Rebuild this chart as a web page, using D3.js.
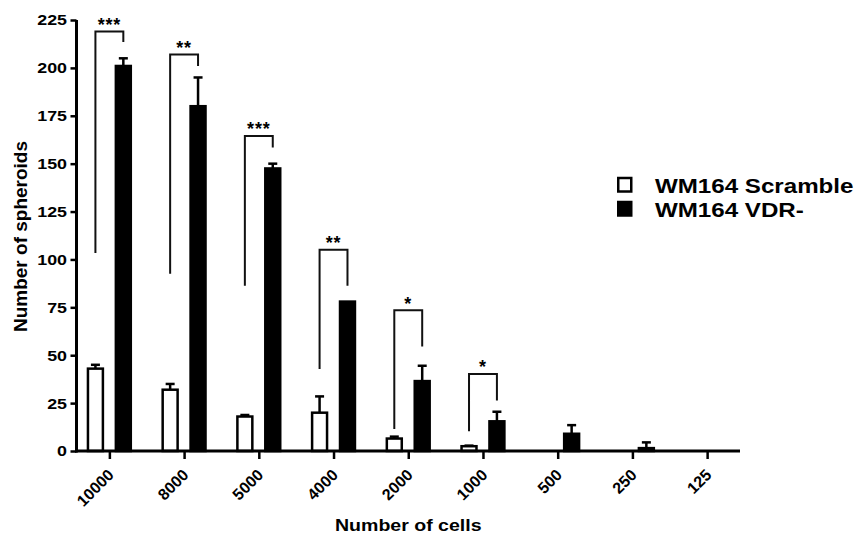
<!DOCTYPE html>
<html>
<head>
<meta charset="utf-8">
<script src="https://cdn.jsdelivr.net/npm/d3@7/dist/d3.min.js"></script>
<style>
  html, body { margin: 0; padding: 0; background: #fff; }
  svg { display: block; }
  text { font-family: "Liberation Sans", Arial, Helvetica, sans-serif; font-weight: bold; fill: #000; }
</style>
</head>
<body>
<svg id="chart" width="861" height="536"></svg>
<script>
// ---- data ----
const categories = ["10000", "8000", "5000", "4000", "2000", "1000", "500", "250", "125"];
const seriesNames = ["WM164 Scramble", "WM164 VDR-"];
const scrambleMean = [43, 32, 18, 20, 6.5, 2.5, 0, 0, 0];
const scrambleErr  = [2, 3, 0.8, 8.5, 1, 0.3, 0, 0, 0];
const vdrMean = [201, 180, 147.5, 78, 36.5, 15.5, 9, 1.5, 0];
const vdrErr  = [4, 15, 2.5, 0, 8, 5, 4.5, 3, 0];
const yTicks = [0, 25, 50, 75, 100, 125, 150, 175, 200, 225];

// significance brackets (in data units)
const bracketCats   = ["10000", "8000", "5000", "4000", "2000", "1000"];
const bracketTop    = [219, 207, 164.5, 105, 73.5, 40.2];
const bracketLeftTo = [103.3, 92.5, 86.3, 42.8, 11.5, 10.3];
const bracketRightTo= [213.5, 201, 158.5, 86.3, 54.6, 26.3];
const bracketLabels = ["***", "**", "***", "**", "*", "*"];

// ---- layout ----
const svg = d3.select("#chart");
const mLeft = 76.5, mRight = 740, mTop = 20, mBottom = 451;
const SX = 1.15; // horizontal text stretch seen in the reference

const x = d3.scalePoint().domain(categories).range([mLeft, mRight]).padding(0.44);
const y = d3.scaleLinear().domain([0, 225]).range([mBottom, mTop]);
const step = x.step();
const bw = step * 0.2;      // inner bar width
const off = step * 0.07;    // half gap
const sw = 2.5;

const g = svg.append("g");

const sData = categories.map((c, i) => ({c, v: scrambleMean[i], e: scrambleErr[i]}));
const vData = categories.map((c, i) => ({c, v: vdrMean[i], e: vdrErr[i]}));

function errBars(data, cxFn) {
  const eg = g.append("g").attr("stroke", "#000").attr("stroke-width", sw);
  data.filter(d => d.e > 0).forEach(d => {
    const cx = cxFn(d);
    eg.append("line").attr("x1", cx).attr("x2", cx).attr("y1", y(d.v)).attr("y2", y(d.v + d.e));
    eg.append("line").attr("x1", cx - 4.5).attr("x2", cx + 4.5).attr("y1", y(d.v + d.e)).attr("y2", y(d.v + d.e));
  });
}

const sCx = d => x(d.c) - off - sw / 2 - bw / 2;
const vCx = d => x(d.c) + off + sw / 2 + bw / 2;

errBars(sData, sCx);
errBars(vData, vCx);

g.append("g").selectAll("rect").data(sData).join("rect")
  .attr("x", d => sCx(d) - bw / 2)
  .attr("width", bw)
  .attr("y", d => y(d.v))
  .attr("height", d => y(0) - y(d.v))
  .attr("fill", "#fff").attr("stroke", "#000").attr("stroke-width", sw);

g.append("g").selectAll("rect").data(vData).join("rect")
  .attr("x", d => vCx(d) - bw / 2)
  .attr("width", bw)
  .attr("y", d => y(d.v))
  .attr("height", d => y(0) - y(d.v))
  .attr("fill", "#000").attr("stroke", "#000").attr("stroke-width", sw);

// brackets
const bg = g.append("g");
bracketCats.forEach((c, i) => {
  const xl = sCx({c}), xr = vCx({c});
  bg.append("path")
    .attr("d", `M${xl},${y(bracketLeftTo[i])}V${y(bracketTop[i])}H${xr}V${y(bracketRightTo[i])}`)
    .attr("fill", "none").attr("stroke", "#111").attr("stroke-width", 2);
  bg.append("text")
    .attr("x", (xl + xr) / 2).attr("y", y(bracketTop[i]) - 0.5)
    .attr("text-anchor", "middle")
    .attr("font-size", 18)
    .style("letter-spacing", "0.8px")
    .text(bracketLabels[i]);
});

// axes
const yAxis = d3.axisLeft(y).tickValues(yTicks).tickSize(6).tickSizeOuter(0).tickPadding(9);
const yg = svg.append("g").attr("transform", `translate(${mLeft},0)`).call(yAxis);
yg.select(".domain").attr("stroke-width", 3).attr("d", `M0,${mTop}V${mBottom + 1.5}`);
yg.selectAll(".tick line").attr("stroke-width", 2.5);
yg.selectAll(".tick text")
  .attr("font-size", 15.5).attr("font-family", null)
  .attr("x", -9.5 / SX).attr("transform", `scale(${SX},1)`);

const xAxis = d3.axisBottom(x).tickSize(8).tickSizeOuter(0);
const xg = svg.append("g").attr("transform", `translate(0,${mBottom})`).call(xAxis);
xg.select(".domain").attr("stroke-width", 3).attr("d", `M${mLeft - 1.5},0H${mRight}`);
xg.selectAll(".tick line").attr("stroke-width", 2.5);
xg.selectAll(".tick text")
  .attr("font-size", 16).attr("font-family", null)
  .attr("text-anchor", "end")
  .attr("x", 0).attr("y", 0).attr("dy", "0.35em")
  .attr("transform", "translate(1,21) rotate(-45)");

// axis titles
svg.append("text")
  .attr("transform", `translate(${(mLeft + mRight) / 2},531) scale(${SX},1)`)
  .attr("text-anchor", "middle").attr("font-size", 17)
  .text("Number of cells");

svg.append("text")
  .attr("transform", `translate(26.5,236.5) rotate(-90)`)
  .attr("text-anchor", "middle").attr("font-size", 19)
  .text("Number of spheroids");

// legend
const lg = svg.append("g").attr("transform", "translate(617,0)");
const legFills = ["#fff", "#000"];
seriesNames.forEach((name, i) => {
  const by = 193 + i * 24;
  lg.append("rect").attr("x", 1.25).attr("y", by - 15).attr("width", 13).attr("height", 13.5)
    .attr("fill", legFills[i]).attr("stroke", "#000").attr("stroke-width", 2.5);
  lg.append("text")
    .attr("transform", `translate(38,${by}) scale(${SX},1)`)
    .attr("font-size", 21)
    .text(name);
});
</script>
</body>
</html>
